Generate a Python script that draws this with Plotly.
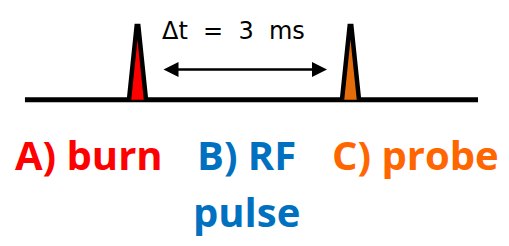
import plotly.graph_objects as go

# ---- data (time in ms, amplitude in arbitrary units) ----
pulse_names = ["burn", "probe"]
pulse_times = [0.0, 3.0]
pulse_amplitudes = [1.0, 1.0]
pulse_colors = ["#FF0000", "#E46C0A"]
pulse_halfwidth = 0.12

baseline_t = [-1.585, 4.796]

arrow_t = [0.345, 2.669]
arrow_level = 0.405
dt_label = "Δt\u00a0\u00a0=\u00a0\u00a03\u00a0\u00a0ms"
dt_label_pos = (1.35, 0.92)

step_labels = ["A) burn", "B) RF<br>pulse", "C) probe"]
step_label_x = [-0.69, 1.535, 3.915]
step_label_y = -0.731
step_label_colors = ["#FF0000", "#0070C0", "#FF6600"]

# outline template of one pulse glyph (fractions of half-width / amplitude)
glyph_dx = [-1.0, -0.45, -0.1, 0.1, 0.45, 1.0]
glyph_dy = [0.0, 0.6, 0.985, 0.985, 0.6, 0.0]

fig = go.Figure()

# baseline
fig.add_trace(go.Scatter(x=baseline_t, y=[0, 0], mode="lines",
                         line=dict(color="black", width=5), hoverinfo="skip"))

# pulses
for t0, a, c in zip(pulse_times, pulse_amplitudes, pulse_colors):
    fig.add_trace(go.Scatter(
        x=[t0 + f * pulse_halfwidth for f in glyph_dx],
        y=[a * g for g in glyph_dy], mode="lines", fill="toself", fillcolor=c,
        line=dict(color="black", width=4.5),
        hoverinfo="skip"))

# double-headed arrow
fig.add_annotation(x=arrow_t[1], y=arrow_level, ax=arrow_t[0], ay=arrow_level,
                   xref="x", yref="y", axref="x", ayref="y", text="",
                   showarrow=True, arrowside="end+start",
                   arrowhead=2, startarrowhead=2, arrowsize=1.2, startarrowsize=1.2,
                   arrowwidth=2.5, arrowcolor="black", standoff=0, startstandoff=0)

fig.add_annotation(x=dt_label_pos[0], y=dt_label_pos[1], xref="x", yref="y",
                   text=dt_label, showarrow=False, xanchor="center", yanchor="middle",
                   font=dict(family="DejaVu Sans", size=24, color="black"))

LINE_STEP = 0.762  # amplitude units between text lines
for lab, x, col in zip(step_labels, step_label_x, step_label_colors):
    for i, line in enumerate(lab.split("<br>")):
        fig.add_annotation(x=x, y=step_label_y - i * LINE_STEP, xref="x", yref="y",
                           text="<b>" + line + "</b>", showarrow=False,
                           xanchor="center", yanchor="middle",
                           font=dict(family="Open Sans", size=40, color=col))

fig.update_xaxes(range=[-1.9366, 5.2324], visible=False, showgrid=False, zeroline=False)
fig.update_yaxes(range=[-1.9545, 1.3342], visible=False, showgrid=False, zeroline=False)
fig.update_layout(width=509, height=246, margin=dict(l=0, r=0, t=0, b=0),
                  paper_bgcolor="white", plot_bgcolor="white", showlegend=False)

fig.write_html("out.html", config={"displayModeBar": False, "staticPlot": True},
               post_script="document.body.style.margin='0';")
